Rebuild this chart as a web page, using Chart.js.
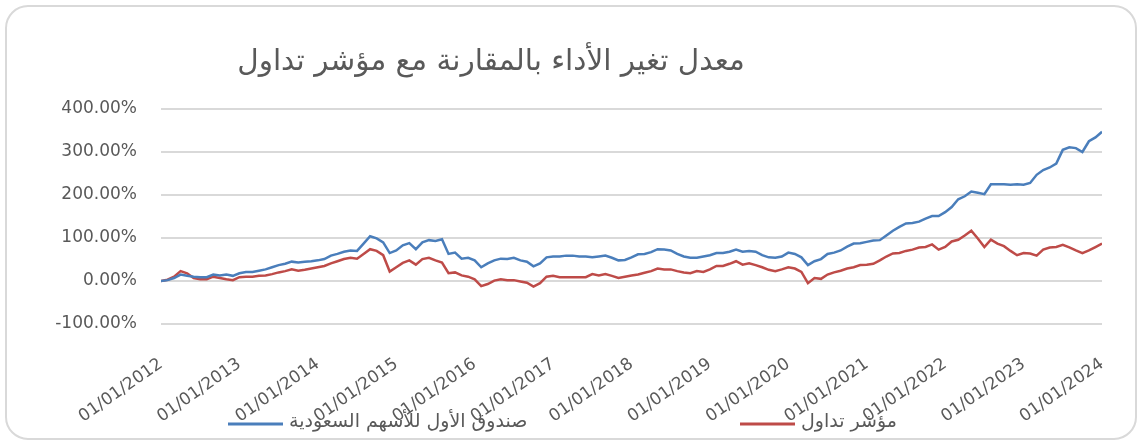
<!DOCTYPE html>
<html>
<head>
<meta charset="utf-8">
<script src="https://cdn.jsdelivr.net/npm/chart.js@4.4.1/dist/chart.umd.min.js"></script>
<style>
  html, body { margin: 0; padding: 0; background: #fff; }
  #wrap { width: 1141px; height: 444px; }
</style>
</head>
<body>
<div id="wrap"><canvas id="perfChart" width="1141" height="444"></canvas></div>
<script>
// Data (monthly, Jan 2012 .. Jan 2024), in %
const startYear = 2012;
const yearLabels = ['01/01/2012', '01/01/2013', '01/01/2014', '01/01/2015', '01/01/2016', '01/01/2017',
  '01/01/2018', '01/01/2019', '01/01/2020', '01/01/2021', '01/01/2022', '01/01/2023', '01/01/2024'];

const fundName = 'صندوق الأول للأسهم السعودية';
const indexName = 'مؤشر تداول';
const chartTitle = 'معدل تغير الأداء بالمقارنة مع مؤشر تداول';

const fundValues = [
  0, 2, 7, 15, 12, 10, 9, 9, 15, 13, 15, 12,
  18, 21, 21, 24, 27, 32, 37, 40, 45, 43, 45, 46,
  48, 51, 59, 63, 68, 71, 70, 87, 104, 99, 90, 65,
  71, 83, 88, 74, 90, 95, 93, 97, 63, 66, 52, 54,
  48, 32, 41, 48, 52, 51, 54, 48, 45, 34, 41, 55,
  57, 57, 59, 59, 57, 57, 55, 57, 59, 54, 48, 49,
  55, 62, 63, 67, 74, 73, 71, 63, 57, 54, 54, 57,
  60, 65, 65, 68, 73, 68, 70, 68, 60, 55, 54, 57,
  66, 63, 55, 37, 46, 51, 63, 66, 71, 80, 87, 88,
  91, 94, 95, 106, 117, 126, 134, 135, 138, 145, 151, 151,
  160, 172, 190, 197, 208, 205, 202, 225, 225, 225, 224, 225,
  224, 228, 247, 258, 264, 273, 305, 311, 309, 300, 325, 334,
  347
];

const indexValues = [
  0, 3, 10, 23, 18, 7, 4, 4, 10, 7, 4, 2,
  9, 10, 10, 12, 13, 16, 20, 23, 27, 24, 26, 29,
  32, 35, 41, 46, 51, 54, 52, 63, 74, 70, 60, 22,
  32, 42, 48, 38, 51, 54, 48, 43, 18, 20, 13, 10,
  4, -12, -7, 1, 4, 2, 2, -1, -4, -13, -5, 10,
  12, 9, 9, 9, 9, 9, 16, 13, 16, 12, 7, 10,
  13, 15, 19, 23, 29, 27, 27, 23, 20, 18, 23, 21,
  27, 35, 35, 40, 46, 38, 41, 37, 32, 26, 23, 27,
  32, 29, 21, -5, 7, 5, 15, 20, 24, 29, 32, 37,
  38, 40, 48, 57, 64, 65, 70, 73, 78, 79, 85, 73,
  79, 92, 96, 106, 117, 99, 79, 96, 87, 81, 70, 60,
  65, 64, 59, 73, 78, 79, 84, 78, 71, 65, 71, 79,
  87
];

const textColor = '#595959';
const fontFamily = "'DejaVu Sans', sans-serif";

function toPoints(values) {
  return values.map((v, i) => ({ x: startYear + i / 12, y: v }));
}

// rounded frame + title + bottom legend, drawn on the canvas
const decorations = {
  id: 'decorations',
  beforeDraw(chart) {
    const c = chart.ctx;
    c.save();
    c.strokeStyle = '#d9d9d9';
    c.lineWidth = 2;
    c.beginPath();
    c.roundRect(6, 6, 1130, 433, 22);
    c.stroke();
    c.restore();
  },
  afterDraw(chart) {
    const c = chart.ctx;
    c.save();
    // title
    c.fillStyle = textColor;
    c.font = '28px ' + fontFamily;
    const w = c.measureText(chartTitle).width;
    const size = 28 * 507 / w;
    c.font = size.toFixed(1) + 'px ' + fontFamily;
    c.textAlign = 'center';
    c.textBaseline = 'middle';
    c.fillText(chartTitle, 491, 62);

    // legend
    const items = [
      { x: 228, ds: chart.data.datasets[0] },
      { x: 740, ds: chart.data.datasets[1] }
    ];
    c.font = '19px ' + fontFamily;
    c.textAlign = 'left';
    items.forEach(it => {
      c.strokeStyle = it.ds.borderColor;
      c.lineWidth = 3;
      c.beginPath();
      c.moveTo(it.x, 424);
      c.lineTo(it.x + 55, 424);
      c.stroke();
      c.fillStyle = textColor;
      c.fillText(it.ds.label, it.x + 61, 422);
    });
    c.restore();
  }
};

const ctx = document.getElementById('perfChart').getContext('2d');

const perfChart = new Chart(ctx, {
  type: 'line',
  data: {
    datasets: [{
      label: fundName,
      data: toPoints(fundValues),
      borderColor: '#4a7ebb',
      borderWidth: 2.5,
      pointRadius: 0,
      tension: 0
    }, {
      label: indexName,
      data: toPoints(indexValues),
      borderColor: '#be4b48',
      borderWidth: 2.5,
      pointRadius: 0,
      tension: 0
    }]
  },
  options: {
    responsive: false,
    animation: false,
    layout: {
      padding: { top: 109, right: 39, bottom: 0, left: 0 }
    },
    plugins: {
      legend: { display: false },
      title: { display: false },
      tooltip: { enabled: false }
    },
    scales: {
      x: {
        type: 'linear',
        min: 2012,
        max: 2024,
        grid: { display: false },
        border: { display: false },
        afterFit: s => { s.height = 120; },
        ticks: {
          stepSize: 1,
          autoSkip: false,
          minRotation: 35,
          maxRotation: 35,
          padding: 22,
          color: textColor,
          font: { family: fontFamily, size: 17 },
          callback: v => yearLabels[Math.round(v - startYear)]
        }
      },
      y: {
        min: -100,
        max: 400,
        afterFit: s => { s.width = 161; },
        grid: { color: '#d9d9d9', lineWidth: 2, drawTicks: false },
        border: { display: false },
        ticks: {
          stepSize: 100,
          padding: 24,
          color: textColor,
          font: { family: fontFamily, size: 17 },
          callback: v => v.toFixed(2) + '%'
        }
      }
    }
  },
  plugins: [decorations]
});
</script>
</body>
</html>
